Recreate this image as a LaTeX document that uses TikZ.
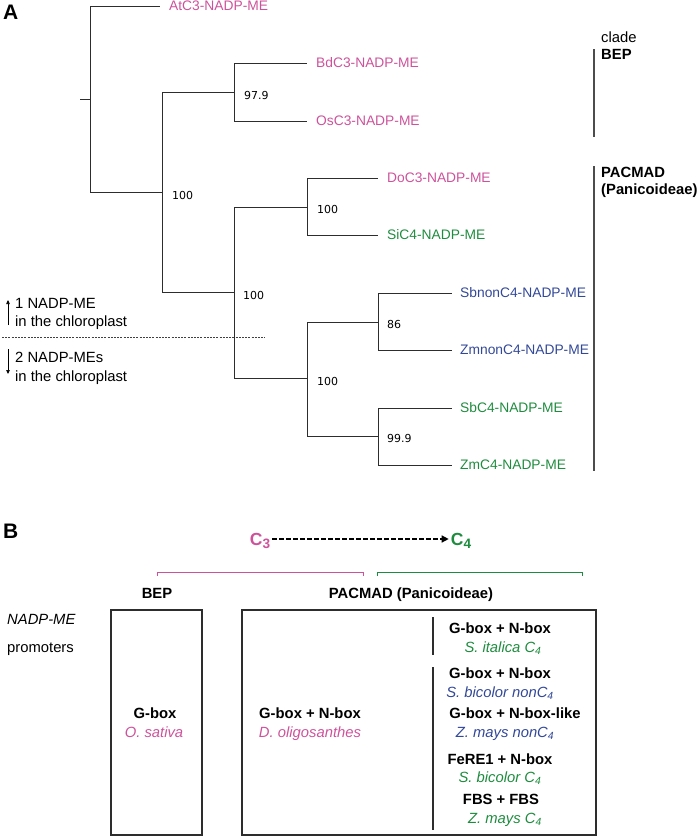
\documentclass[tikz,border=0pt]{standalone}
\usepackage{fontspec}
\setmainfont{Liberation Sans}
\newfontfamily\numfont{DejaVu Sans}
\usetikzlibrary{arrows.meta}
\definecolor{pinkc}{RGB}{205,82,155}
\definecolor{greenc}{RGB}{30,140,62}
\definecolor{bluec}{RGB}{50,72,152}
\definecolor{linec}{RGB}{45,45,45}
\newcommand{\subsc}[1]{\raisebox{-0.3ex}{\scalebox{0.78}{#1}}}
\begin{document}
\begin{tikzpicture}[x=1pt,y=-1pt,
  leaf/.style={anchor=west, inner xsep=9pt, inner ysep=0pt, text height=9.9pt, text depth=0pt, font=\fontsize{13.8}{16}\selectfont},
  bsv/.style={anchor=west, inner sep=0pt, text height=8pt, text depth=0pt, font=\fontsize{11}{13}\selectfont\numfont},
  branch/.style={draw=linec, line width=0.8pt},
  txt/.style={anchor=west, inner sep=0pt, text height=10.6pt, text depth=0pt, font=\fontsize{14.8}{17}\selectfont},
  btxt/.style={anchor=west, inner sep=0pt, text height=10.6pt, text depth=0pt, font=\fontsize{14.8}{17}\selectfont\bfseries},
  cbtxt/.style={anchor=center, inner sep=0pt, text height=10.6pt, text depth=0pt, font=\fontsize{14.8}{17}\selectfont\bfseries},
  citxt/.style={anchor=center, inner sep=0pt, text height=10.6pt, text depth=0pt, font=\fontsize{14.8}{17}\selectfont\itshape},
  panel/.style={anchor=west, inner sep=0pt, text height=15pt, text depth=0pt, font=\fontsize{21}{24}\selectfont\bfseries},
  cladebar/.style={draw=black!70, line width=2pt},
  boxline/.style={draw=linec, line width=1.3pt},
  ctype/.style={anchor=center, inner sep=0pt, text height=12.5pt, text depth=0pt, font=\fontsize{17.5}{20}\selectfont\bfseries}
]
\useasboundingbox (0,0) rectangle (700,838);

% ---------------- Panel A ----------------
\node[panel] (pa) at (3,12) {A};

% junction coordinates
\coordinate (r0) at (80,99);
\coordinate (r) at (90,99);
\coordinate (n1) at (162,192);
\coordinate (bep) at (234,92);
\coordinate (pac) at (234,292);
\coordinate (n3) at (307,207);
\coordinate (n4) at (307,378);
\coordinate (n5) at (378,322);
\coordinate (n6) at (378,436);

% leaves
\node[leaf, text=pinkc] (at) at (160,6) {AtC3-NADP-ME};
\node[leaf, text=pinkc] (bd) at (307,63) {BdC3-NADP-ME};
\node[leaf, text=pinkc] (os) at (307,121) {OsC3-NADP-ME};
\node[leaf, text=pinkc] (do) at (378,178) {DoC3-NADP-ME};
\node[leaf, text=greenc] (si) at (378,235) {SiC4-NADP-ME};
\node[leaf, text=bluec, inner xsep=8pt] (sbn) at (452,293) {SbnonC4-NADP-ME};
\node[leaf, text=bluec, inner xsep=8pt] (zmn) at (452,350) {ZmnonC4-NADP-ME};
\node[leaf, text=greenc, inner xsep=8pt] (sb4) at (452,408) {SbC4-NADP-ME};
\node[leaf, text=greenc, inner xsep=8pt] (zm4) at (452,465) {ZmC4-NADP-ME};

% branches
\draw[branch] (r0) -- (r);
\draw[branch] (r) |- (at.west);
\draw[branch] (r) |- (n1);
\draw[branch] (n1) |- (bep);
\draw[branch] (n1) |- (pac);
\draw[branch] (bep) |- (bd.west);
\draw[branch] (bep) |- (os.west);
\draw[branch] (pac) |- (n3);
\draw[branch] (pac) |- (n4);
\draw[branch] (n3) |- (do.west);
\draw[branch] (n3) |- (si.west);
\draw[branch] (n4) |- (n5);
\draw[branch] (n4) |- (n6);
\draw[branch] (n5) |- (sbn.west);
\draw[branch] (n5) |- (zmn.west);
\draw[branch] (n6) |- (sb4.west);
\draw[branch] (n6) |- (zm4.west);

% bootstrap values
\node[bsv] (b1) at (244,95) {97.9};
\node[bsv] (b2) at (172,195) {100};
\node[bsv] (b3) at (317,209) {100};
\node[bsv] (b4) at (243,295) {100};
\node[bsv] (b5) at (387,324) {86};
\node[bsv] (b6) at (317,381) {100};
\node[bsv] (b7) at (387,438) {99.9};

% clades
\draw[cladebar] (594,49) -- (594,137);
\draw[cladebar] (594,166) -- (594,471);
\node[txt] (cl) at (601,37) {clade};
\node[btxt] (clbep) at (601,54) {BEP};
\node[btxt] (clpac) at (601,172) {PACMAD};
\node[btxt] (clpan) at (601,189) {(Panicoideae)};

% chloroplast annotation
\node[txt] (one) at (15,303) {1 NADP-ME};
\node[txt] (onec) at (15,321) {in the chloroplast};
\node[txt] (two) at (15,357) {2 NADP-MEs};
\node[txt] (twoc) at (15,376) {in the chloroplast};
\draw[line width=0.7pt, -{Triangle[length=4pt,width=3.5pt]}] (8,325) -- (8,300);
\draw[line width=0.7pt, -{Triangle[length=4pt,width=3.5pt]}] (8,349) -- (8,374);
\draw[black!75, line width=0.6pt, dash pattern=on 2pt off 1.2pt] (2,337) -- (265,337);

% ---------------- Panel B ----------------
\node[panel] (pb) at (3,531) {B};

\node[ctype, text=pinkc] (c3) at (260,539) {C\subsc{3}};
\node[ctype, text=greenc] (c4) at (461,539) {C\subsc{4}};
\draw[line width=1.4pt, dash pattern=on 4.5pt off 2.5pt, -{Triangle[length=7pt,width=7pt]}] ([xshift=2pt]c3.east) -- ([xshift=-2pt]c4.west);

\draw[pinkc, line width=1pt] (157,576) -- (157,572) -- (363,572) -- (363,576);
\draw[greenc, line width=1pt] (377,576) -- (377,572) -- (582,572) -- (582,576);

\node[cbtxt] (hbep) at (157,593) {BEP};
\node[cbtxt] (hpac) at (411,593) {PACMAD (Panicoideae)};

\node[txt, font=\fontsize{14.8}{17}\selectfont\itshape] (prom1) at (7,619) {NADP-ME};
\node[txt] (prom2) at (7,647) {promoters};

\draw[boxline] (111,610) rectangle (202,835);
\draw[boxline] (242,610) rectangle (596,835);
\draw[boxline] (433,617) -- (433,655);
\draw[boxline] (433,667) -- (433,830);

\node[cbtxt] (g1) at (155,713) {G-box};
\node[citxt, text=pinkc] (g1s) at (154,732) {O. sativa};
\node[cbtxt] (g2) at (310,713) {G-box + N-box};
\node[citxt, text=pinkc] (g2s) at (310,732) {D. oligosanthes};

\node[cbtxt] (g3) at (500,628) {G-box + N-box};
\node[citxt, text=greenc] (g3s) at (503,647) {S. italica C\textsubscript{4}};
\node[cbtxt] (g4) at (500,673) {G-box + N-box};
\node[citxt, text=bluec] (g4s) at (500,692) {S. bicolor nonC\textsubscript{4}};
\node[cbtxt] (g5) at (515,713) {G-box + N-box-like};
\node[citxt, text=bluec] (g5s) at (505,732) {Z. mays nonC\textsubscript{4}};
\node[cbtxt] (g6) at (500,759) {FeRE1 + N-box};
\node[citxt, text=greenc] (g6s) at (500,777) {S. bicolor C\textsubscript{4}};
\node[cbtxt] (g7) at (501,799) {FBS + FBS};
\node[citxt, text=greenc] (g7s) at (505,818) {Z. mays C\textsubscript{4}};
\end{tikzpicture}
\end{document}
